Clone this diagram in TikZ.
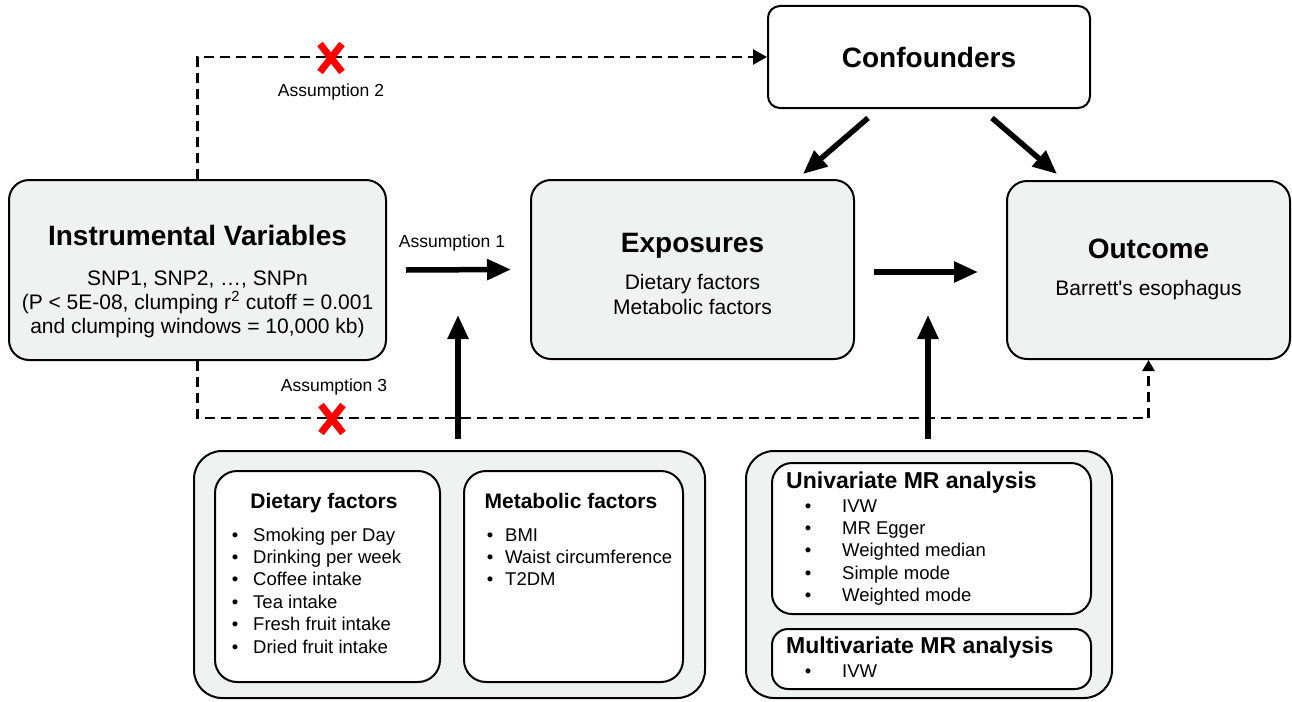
\documentclass[tikz,border=0pt]{standalone}
\usepackage{fontspec}
\setmainfont{Liberation Sans}
\usetikzlibrary{arrows.meta}
\definecolor{boxgray}{RGB}{238,242,241}
\begin{document}
\begin{tikzpicture}[x=1pt,y=-1pt,
  gbox/.style={draw=black, line width=2pt, fill=boxgray, rounded corners=20pt, inner sep=0pt},
  wbox/.style={draw=black, line width=2pt, fill=white, rounded corners=18pt, inner sep=0pt},
  ttl/.style={anchor=base, inner sep=0pt, font=\fontsize{28}{30}\selectfont\bfseries},
  body/.style={anchor=base, inner sep=0pt, font=\fontsize{21}{25}\selectfont},
  sub/.style={anchor=base, inner sep=0pt, font=\fontsize{21}{24}\selectfont\bfseries},
  mrt/.style={anchor=base west, inner sep=0pt, font=\fontsize{23}{26}\selectfont\bfseries},
  item/.style={anchor=base west, inner sep=0pt, font=\fontsize{18.5}{22}\selectfont},
  bul/.style={anchor=base, inner sep=0pt, font=\fontsize{18.5}{22}\selectfont},
  lbl/.style={anchor=base, inner sep=0pt, font=\fontsize{17.5}{20}\selectfont},
  big/.style={line width=5.5pt, -{Triangle[length=24pt,width=20pt]}},
  dsh/.style={line width=2.5pt, dash pattern=on 10pt off 6pt},
  cross/.style={red, line width=7pt},
]
\useasboundingbox (0,0) rectangle (1292,701);

% main boxes
\node[gbox, minimum width=377pt, minimum height=180pt] (iv) at (197.5,270) {};
\node[gbox, minimum width=323pt, minimum height=179pt] (exp) at (692.5,269.5) {};
\node[gbox, minimum width=283pt, minimum height=178pt] (out) at (1148.5,270) {};
\node[wbox, rounded corners=12pt, minimum width=322pt, minimum height=102pt] (conf) at (929,57) {};

% bottom groups
\node[gbox, rounded corners=28pt, minimum width=511pt, minimum height=247pt] (bl) at (449.5,574.5) {};
\node[wbox, rounded corners=22pt, minimum width=225pt, minimum height=211pt] (diet) at (327.5,576.5) {};
\node[wbox, rounded corners=22pt, minimum width=219pt, minimum height=211pt] (meta) at (573.5,576.5) {};
\node[gbox, rounded corners=28pt, minimum width=366pt, minimum height=247pt] (br) at (929,574.5) {};
\node[wbox, rounded corners=20pt, minimum width=319pt, minimum height=151pt] (uni) at (931.5,538.5) {};
\node[wbox, rounded corners=16pt, minimum width=319pt, minimum height=60pt] (multi) at (931.5,659) {};

% texts in main boxes
\node[ttl] (ivt) at (197.5,245) {Instrumental Variables};
\node[body] (iv1) at (197.5,285) {SNP1, SNP2, …, SNPn};
\node[body] (iv2) at (197.5,309) {(P < 5E-08, clumping r\textsuperscript{2} cutoff = 0.001};
\node[body] (iv3) at (197.5,333) {and clumping windows = 10,000 kb)};

\node[ttl] (expt) at (692.5,252) {Exposures};
\node[body] (exp1) at (692.5,289) {Dietary factors};
\node[body] (exp2) at (692.5,314) {Metabolic factors};

\node[ttl] (outt) at (1148.5,258) {Outcome};
\node[body] (out1) at (1148.5,295) {Barrett\textquotesingle s esophagus};

\node[ttl] (conft) at (929,67) {Confounders};

% dietary
\node[sub] (dt) at (324,508) {Dietary factors};
\foreach \t [count=\i] in {Smoking per Day, Drinking per week, Coffee intake, Tea intake, Fresh fruit intake, Dried fruit intake}{
  \node[bul] (db\i) at (235,{541+22.4*(\i-1)}) {•};
  \node[item] (di\i) at (253,{541+22.4*(\i-1)}) {\t};
}
% metabolic
\node[sub] (mt) at (571,508) {Metabolic factors};
\foreach \t [count=\i] in {BMI, Waist circumference, T2DM}{
  \node[bul] (mb\i) at (490,{541+22.4*(\i-1)}) {•};
  \node[item] (mi\i) at (505,{541+22.4*(\i-1)}) {\t};
}
% univariate
\node[mrt] (ut) at (786,488) {Univariate MR analysis};
\foreach \t [count=\i] in {IVW, MR Egger, Weighted median, Simple mode, Weighted mode}{
  \node[bul] (ub\i) at (808,{512+22.4*(\i-1)}) {•};
  \node[item] (ui\i) at (842,{512+22.4*(\i-1)}) {\t};
}
% multivariate
\node[mrt] (mvt) at (786,653) {Multivariate MR analysis};
\node[bul] (mvb1) at (808,677) {•};
\node[item] (mvi1) at (842,677) {IVW};

% labels
\node[lbl] (a1) at (452,247) {Assumption 1};
\node[lbl] (a2) at (331,96) {Assumption 2};
\node[lbl] (a3) at (334,391) {Assumption 3};

% solid arrows
\draw[big] ([xshift=19pt]iv.east) -- ([xshift=-19pt]exp.west);
\draw[big] ([shift={(19,2.5)}]exp.east) -- ([shift={(-28,2)}]out.west);
\draw[big] ([shift={(-61,9)}]conf.south) -- ([shift={(110.5,-5)}]exp.north);
\draw[big] ([shift={(63,9)}]conf.south) -- ([shift={(-91.5,-6)}]out.north);
\coordinate (upL) at (458,315);
\coordinate (upR) at (928,315);
\draw[big] ([shift={(8.5,-11)}]bl.north) -- (upL);
\draw[big] ([shift={(-1,-11)}]br.north) -- (upR);

% dashed arrows
\draw[dsh, -{Triangle[length=14pt,width=15pt]}] (iv.north) |- (conf.west);
\draw[dsh, -{Triangle[length=11pt,width=12pt]}] (iv.south) -- ++(0,57) -| (out.south);

% red crosses
\coordinate (x2) at (331,58);
\coordinate (x3) at (332,419);
\draw[cross] ([shift={(-11,-14)}]x2) -- ([shift={(11,14)}]x2);
\draw[cross] ([shift={(11,-14)}]x2) -- ([shift={(-11,14)}]x2);
\draw[cross] ([shift={(-11,-14)}]x3) -- ([shift={(11,14)}]x3);
\draw[cross] ([shift={(11,-14)}]x3) -- ([shift={(-11,14)}]x3);
\end{tikzpicture}
\end{document}
